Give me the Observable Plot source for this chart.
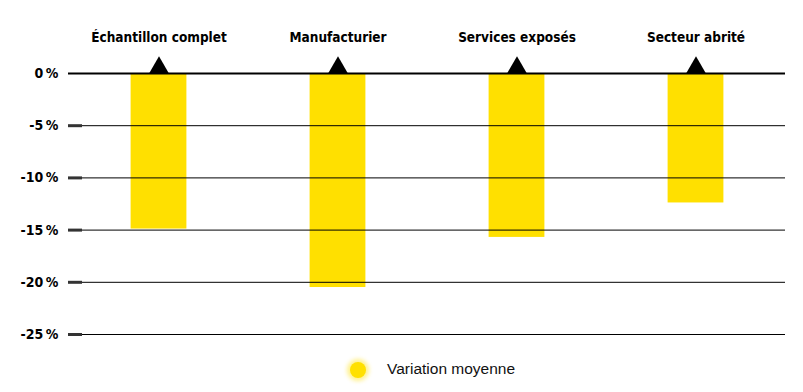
<!DOCTYPE html>
<html>
<head>
<meta charset="utf-8">
<script src="https://cdn.jsdelivr.net/npm/d3@7"></script>
<script src="https://cdn.jsdelivr.net/npm/@observablehq/plot@0.6"></script>
<style>
  body { margin: 0; background: #fff; }
  #chart svg { display: block; }
  .legend { position: relative; height: 47px; font-family: "Liberation Sans", Arial, sans-serif; font-size: 15.5px; color: #111; }
  .legend .dot { position: absolute; left: 350px; top: 17px; width: 16px; height: 16px; border-radius: 50%; background: #ffe000; box-shadow: 0 0 4px 3px rgba(255,224,0,0.45); }
  .legend .lbl { position: absolute; left: 387px; top: 15px; }
</style>
</head>
<body>
<div id="chart"></div>
<div class="legend"><span class="dot"></span><span class="lbl">Variation moyenne</span></div>
<script>
const categories = ["Échantillon complet", "Manufacturier", "Services exposés", "Secteur abrité"];
const values = [-14.9, -20.5, -15.7, -12.4];
const yTicks = [0, -5, -10, -15, -20, -25];
const markerValues = [0, 0, 0, 0];

const data = categories.map((c, i) => ({category: c, value: values[i], marker: markerValues[i]}));
const font = '"Liberation Sans Narrow", "DejaVu Sans Condensed", "Liberation Sans", sans-serif';

const chart = Plot.plot({
  width: 803,
  height: 345,
  marginTop: 73,
  marginBottom: 11,
  marginLeft: 68,
  marginRight: 18,
  style: {fontFamily: font, fontSize: "14px", color: "#000", background: "#fff"},
  x: {domain: categories, padding: 0, axis: null},
  y: {domain: [-25, 0], ticks: yTicks, axis: null},
  marks: [
    Plot.barY(data, {x: "category", y: "value", fill: "#ffe000", insetLeft: 61.6, insetRight: 61.6}),
    Plot.ruleY(yTicks.filter(d => d !== 0), {stroke: "#000", strokeWidth: 1}),
    Plot.ruleY(yTicks.filter(d => d !== 0), {stroke: "#333", strokeWidth: 3, insetRight: 703}),
    Plot.ruleY([0], {stroke: "#000", strokeWidth: 2}),
    Plot.axisY({ticks: yTicks, tickSize: 0, tickPadding: 10, fontWeight: "bold", fontSize: 14, tickFormat: d => `${d}\u2009%`}),
    Plot.dot(data, {x: "category", y: "marker", symbol: "triangle", r: 7.4, fill: "#000", stroke: null, dy: -5.8}),
    Plot.text(data, {x: "category", text: "category", frameAnchor: "top", dy: -41, fontWeight: "bold", fontSize: 13.5, fill: "#000"})
  ]
});
document.getElementById("chart").appendChild(chart);
</script>
</body>
</html>
